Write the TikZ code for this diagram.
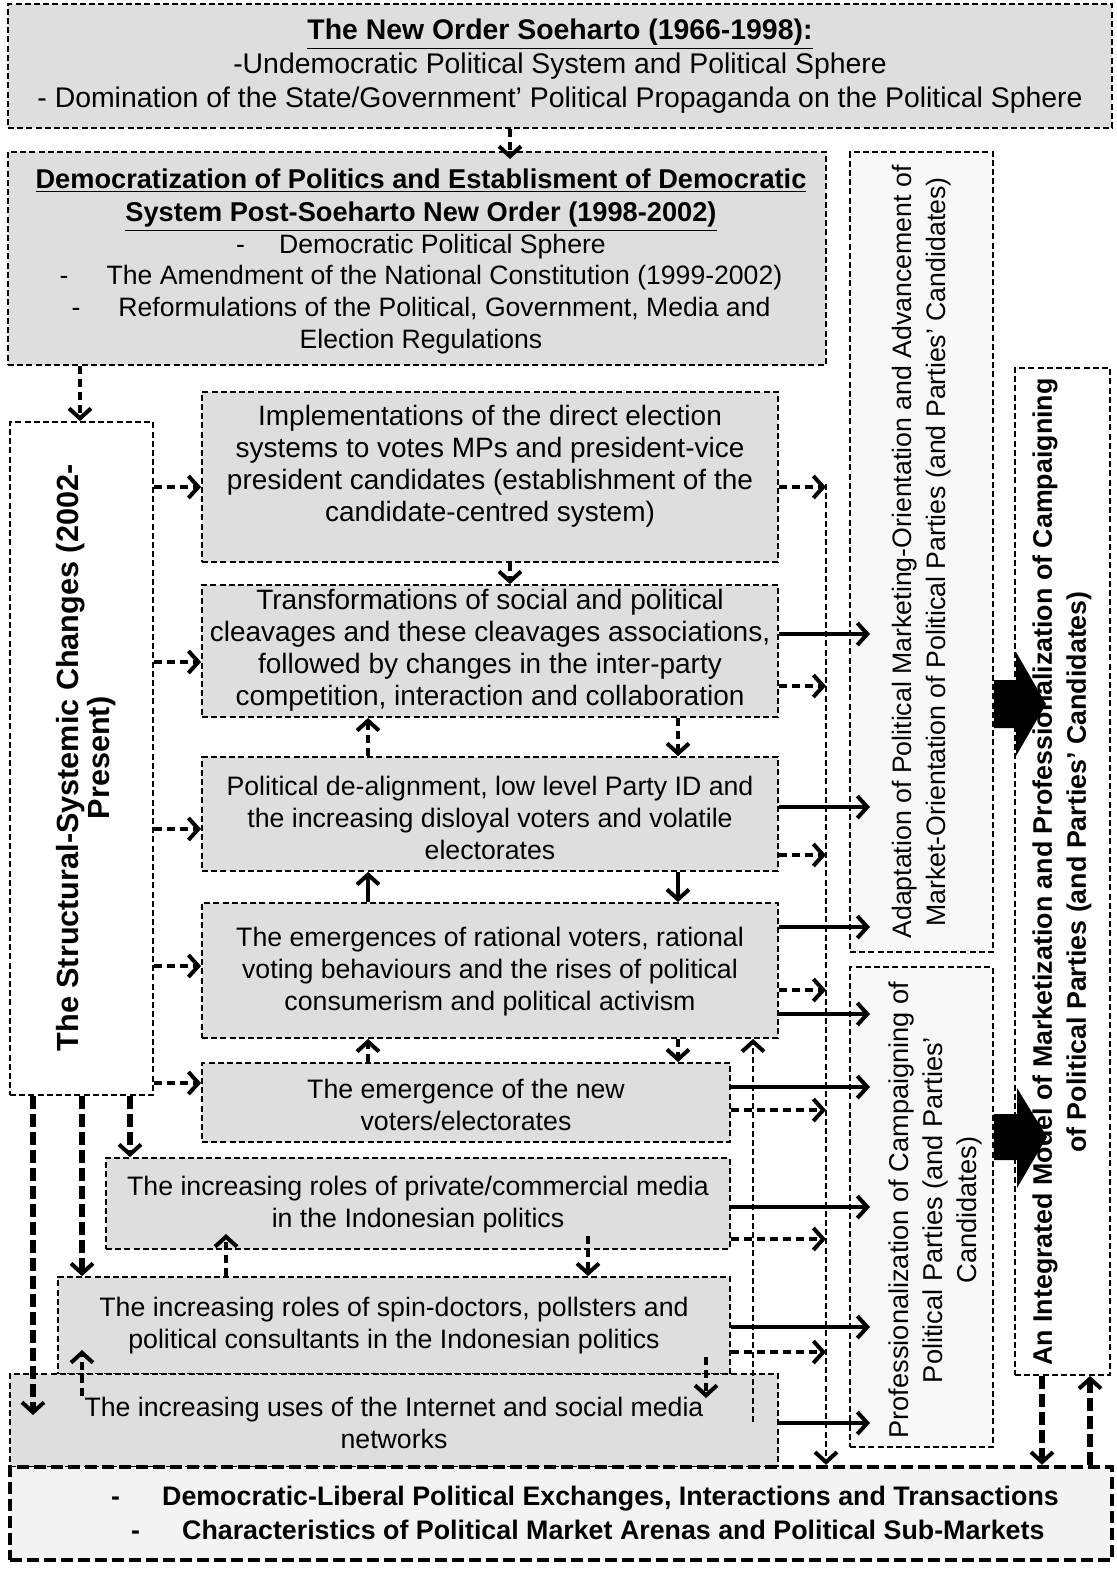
\documentclass[tikz,border=0pt]{standalone}
\usepackage{fontspec}
\setmainfont{Liberation Sans}
\usetikzlibrary{arrows.meta}
\definecolor{boxgrey}{RGB}{222,222,222}
\definecolor{paleA}{RGB}{248,248,248}
\definecolor{paleB}{RGB}{243,243,243}
\newcommand\mkbox[6]{\node[#1, minimum width={(#4-#2)*0.5pt}, minimum height={(#5-#3)*0.5pt}] (#6) at ({(#2+#4)/2},{(#3+#5)/2}) {};}
\begin{document}
\begin{tikzpicture}[x=0.5pt,y=-0.5pt,
  bx/.style={draw, line width=0.9pt, dash pattern=on 3pt off 1.6pt, inner sep=0pt},
  gbx/.style={bx, fill=boxgrey},
  txt/.style={align=center, inner sep=0pt, font=\fontsize{13.35}{16}\selectfont},
  bigtxt/.style={txt, font=\fontsize{14}{16}\selectfont},
  rtxt/.style={txt, rotate=90, font=\fontsize{13.35}{17}\selectfont},
  tip/.style={-{Straight Barb[length=5pt,width=11pt,line width=2pt]}},
  darr/.style={tip, line width=2.3pt, dash pattern=on 4pt off 2.5pt},
  ldarr/.style={tip, line width=2.6pt, dash pattern=on 6.5pt off 2.5pt},
  sarr/.style={tip, line width=1.8pt},
  tarr/.style={tip, line width=0.9pt, dash pattern=on 3pt off 1.6pt},
]
\useasboundingbox (0,0) rectangle (1117,1569);
% boxes
\mkbox{gbx}{8}{4}{1112}{128}{TOP}
\mkbox{gbx}{8}{152}{826}{365}{DEM}
\mkbox{bx, fill=paleA}{850}{152}{993}{952}{A}
\mkbox{bx, fill=paleA}{850}{967}{993}{1447}{B}
\mkbox{bx, fill=white}{1015}{368}{1110}{1375}{C}
\mkbox{bx, fill=white}{10}{422}{153}{1095}{L}
\mkbox{gbx}{202}{392}{778}{562}{M1}
\mkbox{gbx}{202}{585}{778}{717}{M2}
\mkbox{gbx}{202}{757}{778}{871}{M3}
\mkbox{gbx}{202}{903}{778}{1038}{M4}
\mkbox{gbx}{202}{1063}{730}{1142}{M5}
\mkbox{gbx}{106}{1158}{730}{1249}{M6}
\mkbox{gbx}{58}{1277}{730}{1374}{M7}
\mkbox{gbx}{10}{1374}{778}{1467}{M8}
\mkbox{draw, fill=paleB, inner sep=0pt, line width=2.2pt, dash pattern=on 6pt off 2.5pt}{10}{1467}{1112}{1560}{BOT}
% texts
\node[txt, font=\fontsize{14.2}{17}\selectfont] (TOPt) at (560,66) {\textbf{\underline{The New Order Soeharto (1966-1998):}}\\-Undemocratic Political System and Political Sphere\\- Domination of the State/Government’ Political Propaganda on the Political Sphere};
\node[txt, font=\fontsize{13.3}{15.8}\selectfont] (DEMt) at (421,261) {{\fontsize{13.6}{16}\selectfont\textbf{\underline{Democratization of Politics and Establisment of Democratic}}}\\[1pt]{\fontsize{13.6}{16}\selectfont\textbf{\underline{System Post-Soeharto New Order (1998-2002)}}}\\-\hspace{17pt}Democratic Political Sphere\\-\hspace{19pt}The Amendment of the National Constitution (1999-2002)\\-\hspace{19pt}Reformulations of the Political, Government, Media and\\Election Regulations};
\node[rtxt] (At) at (922,552) {Adaptation of Political Marketing-Orientation and Advancement of\\Market-Orientation of Political Parties (and Parties’ Candidates)};
\node[rtxt, font=\fontsize{13.6}{17}\selectfont] (Bt) at (935,1210) {Professionalization of Campaigning of\\Political Parties (and Parties’\\Candidates)};
\node[rtxt, font=\fontsize{13.4}{17}\selectfont\bfseries] (Ct) at (1062,872) {An Integrated Model of Marketization and Professionalization of Campaigning\\of Political Parties (and Parties’ Candidates)};
\node[rtxt, font=\fontsize{15.3}{15.5}\selectfont\bfseries] (Lt) at (86,758) {The Structural-Systemic Changes (2002-\\Present)};
\node[bigtxt] (M1t) at (490,466) {Implementations of the direct election\\systems to votes MPs and president-vice\\president candidates (establishment of the\\candidate-centred system)};
\node[bigtxt] (M2t) at (490,650) {Transformations of social and political\\cleavages and these cleavages associations,\\followed by changes in the inter-party\\competition, interaction and collaboration};
\node[txt] (M3t) at (490,818) {Political de-alignment, low level Party ID and\\the increasing disloyal voters and volatile\\electorates};
\node[txt] (M4t) at (490,972) {The emergences of rational voters, rational\\voting behaviours and the rises of political\\consumerism and political activism};
\node[txt] (M5t) at (466,1105) {The emergence of the new\\voters/electorates};
\node[txt] (M6t) at (418,1205) {The increasing roles of private/commercial media\\in the Indonesian politics};
\node[txt] (M7t) at (394,1326) {The increasing roles of spin-doctors, pollsters and\\political consultants in the Indonesian politics};
\node[txt] (M8t) at (394,1423) {The increasing uses of the Internet and social media\\networks};
\node[txt, font=\fontsize{13.4}{17}\selectfont\bfseries, align=left] (BOTt) at (585,1513) {-\hspace{21pt}Democratic-Liberal Political Exchanges, Interactions and Transactions\\\hspace{10pt}-\hspace{21pt}Characteristics of Political Market Arenas and Political Sub-Markets};
% helper coordinates
\coordinate (ct) at (826,484);
\coordinate (ub) at (753,1422);
\coordinate (Ain) at (870,0);
% top arrows
\draw[darr] (510,0 |- TOP.south) -- (510,159);
\draw[darr] (80,0 |- DEM.south) -- (80,0 |- L.north);
% L to middle boxes
\draw[darr] (L.east |- 0,487) -- (M1.west |- 0,487);
\draw[darr] (L.east |- 0,662) -- (M2.west |- 0,662);
\draw[darr] (L.east |- 0,829) -- (M3.west |- 0,829);
\draw[darr] (L.east |- 0,966) -- (M4.west |- 0,966);
\draw[darr] (L.east |- 0,1083) -- (M5.west |- 0,1083);
% L downwards
\draw[ldarr] (33,0 |- L.south) -- (33,1415);
\draw[ldarr] (82,0 |- L.south) -- (82,0 |- M7.north);
\draw[ldarr] (130,0 |- L.south) -- (130,0 |- M6.north);
% between middle boxes
\draw[darr] (510,0 |- M1.south) -- (510,0 |- M2.north);
\draw[darr] (678,0 |- M2.south) -- (678,0 |- M3.north);
\draw[darr] (368,0 |- M3.north) -- (368,0 |- M2.south);
\draw[sarr] (678,0 |- M3.south) -- (678,0 |- M4.north);
\draw[sarr] (368,0 |- M4.north) -- (368,0 |- M3.south);
\draw[darr] (678,0 |- M4.south) -- (678,0 |- M5.north);
\draw[darr] (368,0 |- M5.north) -- (368,0 |- M4.south);
\draw[darr] (588,1236) -- (588,0 |- M7.north);
\draw[darr] (226,0 |- M7.north) -- (226,1234);
\draw[darr] (706,1357) -- (706,1398);
\draw[darr] (82,1396) -- (82,1350);
% long thin lines
\draw[tarr] (ub) -- (ub |- M4.south);
\draw[tarr] (ct) -- (ct |- BOT.north);
% dashed arrows to collector line
\draw[darr] (M1.east |- 0,487) -- (ct |- 0,487);
\draw[darr] (M2.east |- 0,686) -- (ct |- 0,686);
\draw[darr] (M3.east |- 0,855) -- (ct |- 0,855);
\draw[darr] (M4.east |- 0,990) -- (ct |- 0,990);
\draw[darr] (M5.east |- 0,1110) -- (ct |- 0,1110);
\draw[darr] (M6.east |- 0,1239) -- (ct |- 0,1239);
\draw[darr] (M7.east |- 0,1352) -- (ct |- 0,1352);
% solid arrows into A and B
\draw[sarr] (M2.east |- 0,634) -- (Ain |- 0,634);
\draw[sarr] (M3.east |- 0,807) -- (Ain |- 0,807);
\draw[sarr] (M4.east |- 0,927) -- (Ain |- 0,927);
\draw[sarr] (M4.east |- 0,1014) -- (Ain |- 0,1014);
\draw[sarr] (M5.east |- 0,1087) -- (Ain |- 0,1087);
\draw[sarr] (M6.east |- 0,1207) -- (Ain |- 0,1207);
\draw[sarr] (M7.east |- 0,1327) -- (Ain |- 0,1327);
\draw[sarr] (M8.east |- 0,1423) -- (Ain |- 0,1423);
% block arrows A->C, B->C
\fill (A.east |- 0,680) -- (1016,680) -- (1016,652) -- (1046,704) -- (1016,756) -- (1016,728) -- (A.east |- 0,728) -- cycle;
\fill (B.east |- 0,1114) -- (1017,1114) -- (1017,1088) -- (1047,1137) -- (1017,1188) -- (1017,1160) -- (B.east |- 0,1160) -- cycle;
% C <-> BOT
\draw[ldarr] (1042,0 |- C.south) -- (1042,0 |- BOT.north);
\draw[ldarr] (1090,0 |- BOT.north) -- (1090,0 |- C.south);
\end{tikzpicture}
\end{document}
